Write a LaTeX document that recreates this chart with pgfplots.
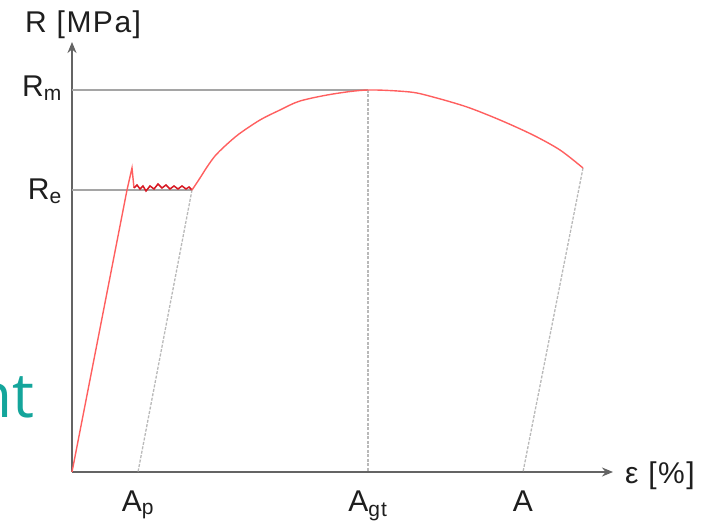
\documentclass[border=0pt]{standalone}
\usepackage{pgfplots}
\pgfplotsset{compat=1.18}
\usetikzlibrary{arrows.meta}
\usepackage{fontspec}
\setmainfont{Liberation Sans}
\newfontfamily\lblfont[LetterSpace=5]{Liberation Sans}
\newfontfamily\tealfont{Open Sans}
\definecolor{axisgray}{RGB}{100,100,100}
\definecolor{refgray}{RGB}{165,165,165}
\definecolor{dashgray}{RGB}{185,185,185}
\definecolor{curvered}{RGB}{255,95,95}
\definecolor{yieldred}{RGB}{215,25,35}
\definecolor{teal}{RGB}{20,165,155}
\definecolor{txt}{RGB}{30,30,30}
\begin{document}
\begin{tikzpicture}[x=1pt,y=1pt]
\useasboundingbox (-72,-50) rectangle (635,472);
\begin{axis}[
  at={(0pt,0pt)}, anchor=origin,
  scale only axis, width=541pt, height=430pt,
  xmin=0, xmax=541, ymin=0, ymax=430,
  axis lines=left,
  axis line style={draw=axisgray, line width=2.2pt, -{Stealth[length=11pt,width=9pt]}},
  xtick=\empty, ytick=\empty,
  clip=false,
]
% reference lines
\addplot[refgray, line width=2pt] coordinates {(0,382) (296,382)};
\addplot[refgray, line width=2pt] coordinates {(0,282) (120,282)};
\addplot[dashgray, line width=1.3pt, dash pattern=on 3pt off 1.5pt] coordinates {(120,282) (66,0)};
\addplot[dashgray, line width=1.3pt, dash pattern=on 3pt off 1.5pt] coordinates {(296,382) (296,0)};
\addplot[dashgray, line width=1.3pt, dash pattern=on 3pt off 1.5pt] coordinates {(511,304) (451,0)};
% elastic part
\addplot[curvered, line width=1.4pt] coordinates {(0,0) (55,282) (60,304) (62,284)};
% yield plateau
\addplot[yieldred, line width=1.5pt] coordinates {
 (62,284) (65,287) (68,283) (71,286) (74,281) (78,286) (82,283) (86,288)
 (90,284) (94,287) (98,283) (102,286) (106,283) (110,286) (114,283) (117,285) (120,282)};
% hardening and necking
\addplot[curvered, line width=1.4pt, smooth] coordinates {
 (120,282) (128,294) (135,305) (143,316) (153,326) (167,338) (188,352)
 (208,362) (228,371) (261,378) (296,382) (338,380) (361,375) (395,365)
 (428,352) (461,337) (488,322) (511,304)};
\end{axis}
\begin{scope}[font=\lblfont\fontsize{30}{33}\selectfont, text=txt, inner sep=0pt]
\node[anchor=base west] at (-47,439) {R [MPa]};
\node[anchor=base east] at (-10,375) {R\textsubscript{m}};
\node[anchor=base east] at (-10,272) {R\textsubscript{e}};
\node[anchor=base] at (66,-39) {A\textsubscript{p}};
\node[anchor=base] at (296,-39) {A\textsubscript{gt}};
\node[anchor=base] at (451,-39) {A};
\node[anchor=base west] at (553,-12) {ε [\%]};
\end{scope}
\node[anchor=base east, inner sep=0pt, text=teal, font=\tealfont\fontsize{62}{70}\selectfont] at (-37,54) {nt};
\end{tikzpicture}
\end{document}
